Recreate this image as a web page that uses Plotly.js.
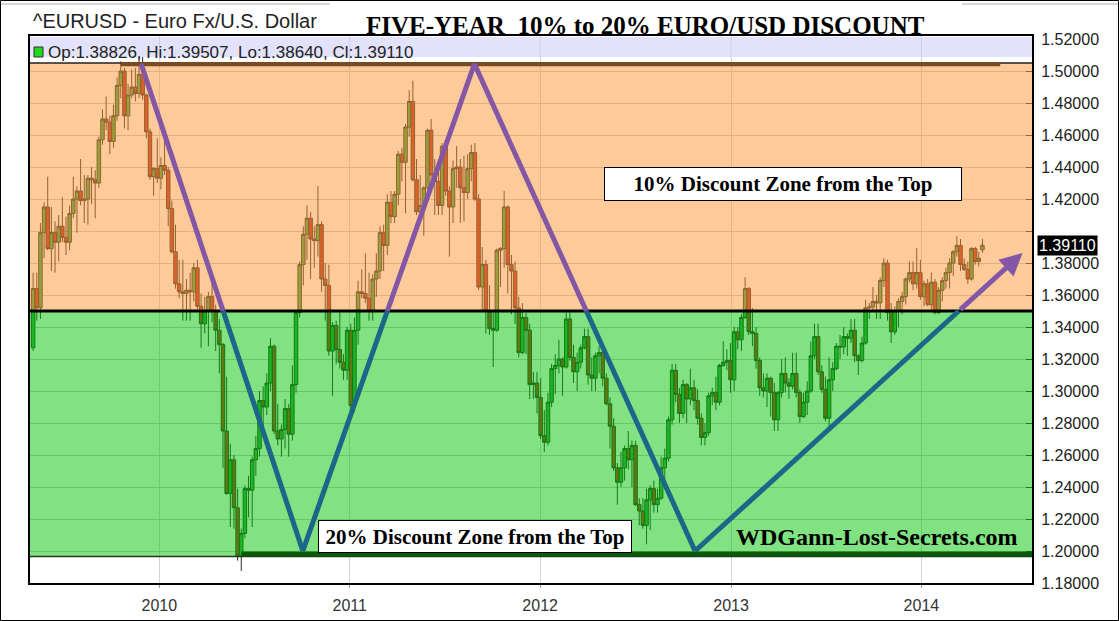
<!DOCTYPE html>
<html>
<head>
<meta charset="utf-8">
<script src="https://cdn.plot.ly/plotly-3.0.1.min.js"></script>
<style>
  html, body { margin: 0; padding: 0; background: #fff; }
  #chart { width: 1119px; height: 621px; }
</style>
</head>
<body>
<div id="chart"></div>
<script>
// ---- Weekly EUR/USD candles (week starting 2009-05-04) ----
const firstWeekUTC = Date.UTC(2009, 4, 4);

const open = [
1.3270,1.3640,1.3520,1.3990,1.4150,1.3890,1.3990,1.3930,1.4030,1.3960,
1.3930,1.4110,1.4200,1.4250,1.4190,1.4200,1.4330,1.4320,1.4300,1.4570,
1.4700,1.4680,1.4560,1.4720,1.4910,1.5000,1.4720,1.4850,1.4900,1.4860,
1.4980,1.4850,1.4620,1.4340,1.4390,1.4330,1.4410,1.4380,1.4140,1.3870,
1.3670,1.3620,1.3610,1.3630,1.3620,1.3770,1.3530,1.3420,1.3500,1.3590,
1.3500,1.3380,1.3290,1.2750,1.2360,1.2570,1.2270,1.1970,1.2110,1.2390,
1.2380,1.2570,1.2640,1.2940,1.2900,1.3050,1.3280,1.2750,1.2700,1.2760,
1.2890,1.2730,1.3040,1.3490,1.3790,1.3980,1.4080,1.3950,1.3940,1.4040,
1.3700,1.3660,1.3250,1.3410,1.3260,1.3180,1.3130,1.3380,1.2910,1.3380,
1.3620,1.3610,1.3580,1.3500,1.3700,1.3750,1.3990,1.3910,1.4180,1.4090,
1.4230,1.4480,1.4430,1.4650,1.4810,1.4320,1.4120,1.4160,1.4270,1.4630,
1.4350,1.4310,1.4160,1.4530,1.4250,1.4150,1.4390,1.4400,1.4270,1.4240,
1.4390,1.4490,1.4200,1.3650,1.3790,1.3500,1.3390,1.3380,1.3880,1.3890,
1.4150,1.3790,1.3750,1.3520,1.3240,1.3460,1.3380,1.3040,1.3050,1.2960,
1.2720,1.2680,1.2930,1.3140,1.3160,1.3200,1.3150,1.3450,1.3210,1.3120,
1.3180,1.3270,1.3340,1.3100,1.3080,1.3220,1.3240,1.3080,1.2920,1.2780,
1.2520,1.2430,1.2520,1.2640,1.2570,1.2660,1.2290,1.2250,1.2160,1.2320,
1.2390,1.2290,1.2330,1.2520,1.2580,1.2820,1.3130,1.2980,1.2860,1.3040,
1.2950,1.3020,1.2940,1.2830,1.2710,1.2740,1.2970,1.2990,1.2930,1.3160,
1.3180,1.3190,1.3070,1.3370,1.3320,1.3460,1.3640,1.3370,1.3360,1.3190,
1.3020,1.3000,1.3080,1.2990,1.2820,1.2990,1.3110,1.3050,1.3030,1.3110,
1.2990,1.2840,1.2930,1.3000,1.3220,1.3340,1.3120,1.3010,1.2830,1.3070,
1.3140,1.3280,1.3275,1.3340,1.3330,1.3380,1.3220,1.3190,1.3300,1.3520,
1.3525,1.3560,1.3550,1.3690,1.3800,1.3490,1.3370,1.3500,1.3560,1.3590,
1.3700,1.3740,1.3670,1.3740,1.3590,1.3670,1.3540,1.3680,1.3490,1.3630,
1.3690,1.3740,1.3800,1.3870,1.3910,1.3790,1.3760,1.3700,1.3890,1.3810,
1.38826];

const high = [
1.3740,1.3740,1.4050,1.4180,1.4340,1.4150,1.4060,1.4100,1.4210,1.4090,
1.4160,1.4340,1.4280,1.4450,1.4350,1.4350,1.4400,1.4380,1.4590,1.4760,
1.4840,1.4720,1.4790,1.4960,1.5060,1.5020,1.4920,1.5010,1.5020,1.5144,
1.5140,1.4860,1.4640,1.4400,1.4580,1.4460,1.4580,1.4400,1.4190,1.4040,
1.3820,1.3820,1.3700,1.3740,1.3800,1.3820,1.3610,1.3590,1.3620,1.3690,
1.3540,1.3450,1.3300,1.3090,1.2670,1.2600,1.2390,1.2140,1.2410,1.2470,
1.2590,1.2720,1.3000,1.3030,1.3110,1.3330,1.3290,1.2920,1.2790,1.2950,
1.2920,1.3160,1.3500,1.3810,1.4030,1.4160,1.4120,1.4030,1.4280,1.4060,
1.3800,1.3790,1.3430,1.3440,1.3500,1.3230,1.3400,1.3420,1.3460,1.3690,
1.3760,1.3860,1.3740,1.3730,1.3860,1.4030,1.4040,1.4230,1.4250,1.4250,
1.4500,1.4520,1.4670,1.4880,1.4940,1.4450,1.4350,1.4280,1.4640,1.4700,
1.4450,1.4450,1.4550,1.4550,1.4280,1.4440,1.4530,1.4450,1.4470,1.4480,
1.4540,1.4550,1.4230,1.3900,1.3820,1.3660,1.3500,1.3890,1.3900,1.4250,
1.4160,1.3850,1.3810,1.3590,1.3550,1.3490,1.3420,1.3120,1.3120,1.3080,
1.2880,1.2990,1.3170,1.3230,1.3320,1.3210,1.3490,1.3490,1.3290,1.3240,
1.3290,1.3390,1.3390,1.3210,1.3240,1.3280,1.3250,1.3110,1.2960,1.2830,
1.2550,1.2620,1.2660,1.2750,1.2690,1.2690,1.2330,1.2330,1.2390,1.2410,
1.2440,1.2390,1.2590,1.2640,1.2840,1.3170,1.3170,1.3020,1.3070,1.3050,
1.3140,1.3070,1.3010,1.2860,1.2800,1.2990,1.3020,1.3090,1.3170,1.3310,
1.3260,1.3300,1.3400,1.3400,1.3480,1.3710,1.3650,1.3520,1.3400,1.3210,
1.3110,1.3110,1.3090,1.3050,1.3000,1.3200,1.3210,1.3080,1.3240,1.3240,
1.3010,1.2990,1.3060,1.3310,1.3420,1.3420,1.3160,1.3090,1.3210,1.3180,
1.3300,1.3350,1.3400,1.3360,1.3450,1.3450,1.3230,1.3340,1.3570,1.3550,
1.3650,1.3600,1.3710,1.3830,1.3820,1.3550,1.3530,1.3580,1.3620,1.3710,
1.3810,1.3810,1.3893,1.3820,1.3690,1.3700,1.3740,1.3700,1.3650,1.3710,
1.3770,1.3830,1.3880,1.3967,1.3950,1.3830,1.3810,1.3900,1.3900,1.3870,
1.39507];

const low = [
1.3250,1.3440,1.3450,1.3830,1.3880,1.3750,1.3740,1.3810,1.3930,1.3850,
1.3880,1.4080,1.3990,1.4160,1.4050,1.4040,1.4170,1.4080,1.4270,1.4540,
1.4630,1.4480,1.4520,1.4690,1.4830,1.4640,1.4630,1.4830,1.4810,1.4830,
1.4820,1.4580,1.4320,1.4220,1.4300,1.4260,1.4350,1.4030,1.3860,1.3640,
1.3580,1.3440,1.3440,1.3440,1.3560,1.3510,1.3270,1.3360,1.3280,1.3430,
1.3250,1.3110,1.2520,1.2350,1.2150,1.2140,1.1940,1.1876,1.2080,1.2210,
1.2150,1.2470,1.2590,1.2720,1.2850,1.3000,1.2730,1.2660,1.2590,1.2640,
1.2590,1.2690,1.2990,1.3460,1.3660,1.3820,1.3700,1.3770,1.3840,1.3620,
1.3440,1.3220,1.2970,1.3170,1.3140,1.3070,1.3070,1.2870,1.2870,1.3290,
1.3580,1.3550,1.3440,1.3440,1.3590,1.3700,1.3750,1.3850,1.4050,1.4050,
1.4160,1.4310,1.4110,1.4590,1.4310,1.4100,1.4050,1.3970,1.4240,1.4300,
1.4100,1.4100,1.4100,1.4220,1.3840,1.4050,1.4270,1.4050,1.4060,1.4200,
1.4310,1.4190,1.3630,1.3500,1.3360,1.3350,1.3150,1.3370,1.3650,1.3770,
1.3610,1.3480,1.3420,1.3210,1.3230,1.3230,1.2950,1.2950,1.2860,1.2700,
1.2620,1.2660,1.2900,1.2980,1.3110,1.2970,1.3140,1.3190,1.3050,1.3000,
1.3140,1.3260,1.3040,1.3000,1.3000,1.3110,1.3030,1.2910,1.2640,1.2500,
1.2290,1.2400,1.2440,1.2510,1.2400,1.2280,1.2160,1.2140,1.2042,1.2130,
1.2240,1.2240,1.2320,1.2430,1.2560,1.2790,1.2930,1.2800,1.2830,1.2800,
1.2910,1.2880,1.2790,1.2660,1.2660,1.2720,1.2910,1.2880,1.2910,1.3150,
1.3130,1.2990,1.3000,1.3260,1.3250,1.3450,1.3350,1.3280,1.3140,1.2970,
1.2960,1.2900,1.2840,1.2750,1.2750,1.2960,1.2990,1.2950,1.3010,1.2960,
1.2800,1.2830,1.2850,1.2990,1.3200,1.3100,1.2990,1.2810,1.2760,1.3000,
1.3130,1.3200,1.3230,1.3220,1.3300,1.3180,1.3100,1.3180,1.3290,1.3450,
1.3500,1.3450,1.3450,1.3650,1.3440,1.3300,1.3350,1.3400,1.3480,1.3540,
1.3680,1.3630,1.3640,1.3570,1.3530,1.3530,1.3510,1.3480,1.3480,1.3560,
1.3640,1.3640,1.3720,1.3840,1.3750,1.3750,1.3670,1.3690,1.3790,1.3780,
1.38640];

const close = [
1.3640,1.3520,1.3990,1.4150,1.3890,1.3990,1.3930,1.4030,1.3960,1.3930,
1.4110,1.4200,1.4250,1.4190,1.4200,1.4330,1.4320,1.4300,1.4570,1.4700,
1.4680,1.4560,1.4720,1.4910,1.5000,1.4720,1.4850,1.4900,1.4860,1.4980,
1.4850,1.4620,1.4340,1.4390,1.4330,1.4410,1.4380,1.4140,1.3870,1.3670,
1.3620,1.3610,1.3630,1.3620,1.3770,1.3530,1.3420,1.3500,1.3590,1.3500,
1.3380,1.3290,1.2750,1.2360,1.2570,1.2270,1.1970,1.2110,1.2390,1.2380,
1.2570,1.2640,1.2940,1.2900,1.3050,1.3280,1.2750,1.2700,1.2760,1.2890,
1.2730,1.3040,1.3490,1.3790,1.3980,1.4080,1.3950,1.3940,1.4040,1.3700,
1.3660,1.3250,1.3410,1.3260,1.3180,1.3130,1.3380,1.2910,1.3380,1.3620,
1.3610,1.3580,1.3500,1.3700,1.3750,1.3990,1.3910,1.4180,1.4090,1.4230,
1.4480,1.4430,1.4650,1.4810,1.4320,1.4120,1.4160,1.4270,1.4630,1.4350,
1.4310,1.4160,1.4530,1.4250,1.4150,1.4390,1.4400,1.4270,1.4240,1.4390,
1.4490,1.4200,1.3650,1.3790,1.3500,1.3390,1.3380,1.3880,1.3890,1.4150,
1.3790,1.3750,1.3520,1.3240,1.3460,1.3380,1.3040,1.3050,1.2960,1.2720,
1.2680,1.2930,1.3140,1.3160,1.3200,1.3150,1.3450,1.3210,1.3120,1.3180,
1.3270,1.3340,1.3100,1.3080,1.3220,1.3240,1.3080,1.2920,1.2780,1.2520,
1.2430,1.2520,1.2640,1.2570,1.2660,1.2290,1.2250,1.2160,1.2320,1.2390,
1.2290,1.2330,1.2520,1.2580,1.2820,1.3130,1.2980,1.2860,1.3040,1.2950,
1.3020,1.2940,1.2830,1.2710,1.2740,1.2970,1.2990,1.2930,1.3160,1.3180,
1.3190,1.3070,1.3370,1.3320,1.3460,1.3640,1.3370,1.3360,1.3190,1.3020,
1.3000,1.3080,1.2990,1.2820,1.2990,1.3110,1.3050,1.3030,1.3110,1.2990,
1.2840,1.2930,1.3000,1.3220,1.3340,1.3120,1.3010,1.2830,1.3070,1.3140,
1.3280,1.3275,1.3340,1.3330,1.3380,1.3220,1.3190,1.3300,1.3520,1.3525,
1.3560,1.3550,1.3690,1.3800,1.3490,1.3370,1.3500,1.3560,1.3590,1.3700,
1.3740,1.3670,1.3740,1.3590,1.3670,1.3540,1.3680,1.3490,1.3630,1.3690,
1.3740,1.3800,1.3870,1.3910,1.3790,1.3760,1.3700,1.3890,1.3810,1.3830,
1.39110];

// Axis ticks
const yearTicks  = ['2010-01-01','2011-01-01','2012-01-01','2013-01-01','2014-01-01'];
const yearLabels = ['2010','2011','2012','2013','2014'];
const yTickVals  = [1.18,1.20,1.22,1.24,1.26,1.28,1.30,1.32,1.34,1.36,1.38,1.40,1.42,1.44,1.46,1.48,1.50,1.52];
const yTickText  = ['1.18000','1.20000','1.22000','1.24000','1.26000','1.28000','1.30000','1.32000','1.34000',
                    '1.36000','1.38000','','1.42000','1.44000','1.46000','1.48000','1.50000','1.52000'];

// Discount zones and the hand-drawn zig-zag
const zoneTop = 1.505, zoneMid = 1.35, zoneBottom = 1.1965;
const zigzagDates  = ['2009-11-27','2010-10-03','2011-08-28','2012-10-24','2014-07-14'];
const zigzagPrices = [1.5045, 1.2000, 1.5045, 1.2000, 1.3863];

const PURPLE = '#8457a6', BLUE = '#1b6689';

const weeks = open.map((_, i) => new Date(firstWeekUTC + i * 7 * 864e5).toISOString().slice(0, 10));
const last = close.length - 1;

function ms(s) { return Date.parse(s + 'T00:00:00Z'); }
function fmt(t) { return new Date(t).toISOString().slice(0, 19).replace('T', ' '); }

const PL = 30, PT = 36, PW = 1002, PH = 547; // plot area in px
const px = x => (x - PL) / PW;
const py = y => (PT + PH - y) / PH;

const shapes = [];
// overlays (semi-transparent, above candles)
shapes.push({type:'rect', layer:'above', xref:'paper', yref:'y', x0:0, x1:1, y0:zoneMid, y1:zoneTop,
  fillcolor:'rgba(251,151,51,0.5)', line:{width:0}});
shapes.push({type:'rect', layer:'above', xref:'paper', yref:'y', x0:0, x1:1, y0:zoneBottom, y1:zoneMid,
  fillcolor:'rgba(1,197,1,0.5)', line:{width:0}});
// legend band
shapes.push({type:'rect', layer:'above', xref:'paper', yref:'paper', x0:0, x1:1, y0:py(57), y1:py(37),
  fillcolor:'rgb(226,226,250)', line:{width:0}});
yearTicks.forEach(d => shapes.push({type:'line', layer:'above', xref:'x', yref:'paper', x0:d, x1:d, y0:py(57), y1:py(37),
  line:{color:'rgb(206,206,232)', width:1}}));
// zone borders
shapes.push({type:'line', layer:'above', xref:'paper', yref:'y', x0:0, x1:1, y0:zoneTop, y1:zoneTop,
  line:{color:'#222', width:1.5}});
const firstTop = weeks[high.findIndex(h => h >= 1.50)];
shapes.push({type:'line', layer:'above', xref:'x', yref:'y', x0:firstTop, x1:'2014-06-01', y0:1.5042, y1:1.5042,
  line:{color:'#7b4a1e', width:4}});
shapes.push({type:'line', layer:'above', xref:'paper', yref:'y', x0:0, x1:1, y0:zoneBottom, y1:zoneBottom,
  line:{color:'#1a3a1a', width:1.5}});
const lowIdx = low.indexOf(Math.min(...low));
shapes.push({type:'line', layer:'above', xref:'x', yref:'y', x0:weeks[lowIdx], x1:'2014-08-01', y0:1.1982, y1:1.1982,
  line:{color:'#0a5a0a', width:5}});
shapes.push({type:'line', layer:'above', xref:'paper', yref:'y', x0:0, x1:1, y0:zoneMid, y1:zoneMid,
  line:{color:'#000', width:3}});

// zig-zag
const annotations = [];
for (let k = 0; k < zigzagDates.length - 1; k++) {
  const ta = ms(zigzagDates[k]), tb = ms(zigzagDates[k + 1]);
  const pa = zigzagPrices[k], pb = zigzagPrices[k + 1];
  const f = (zoneMid - pa) / (pb - pa);
  const tm = ta + f * (tb - ta);
  const isLast = k === zigzagDates.length - 2;
  const parts = [[ta, pa, tm, zoneMid], [tm, zoneMid, tb, pb]];
  parts.forEach(([t0, p0, t1, p1]) => {
    const upper = (p0 + p1) / 2 > zoneMid;
    const col = upper ? PURPLE : BLUE;
    if (isLast && upper) {
      annotations.push({xref:'x', yref:'y', axref:'x', ayref:'y', x:fmt(t1), y:p1, ax:fmt(t0), ay:p0,
        text:'', showarrow:true, arrowhead:2, arrowsize:0.9, arrowwidth:5, arrowcolor:col, standoff:0, startstandoff:0});
    } else {
      shapes.push({type:'line', layer:'above', xref:'x', yref:'y', x0:fmt(t0), y0:p0, x1:fmt(t1), y1:p1,
        line:{color:col, width:5}});
    }
  });
}

// legend square & frame decorations
shapes.push({type:'rect', layer:'above', xref:'paper', yref:'paper', x0:px(34), x1:px(43), y0:py(57), y1:py(47),
  fillcolor:'#1fd81f', line:{color:'#333', width:1}});
shapes.push({type:'line', xref:'paper', yref:'paper', x0:px(0), x1:px(330), y0:py(4), y1:py(4), line:{color:'#d6d6d6', width:2}});
shapes.push({type:'line', xref:'paper', yref:'paper', x0:px(962), x1:px(1119), y0:py(4), y1:py(4), line:{color:'#d6d6d6', width:2}});
shapes.push({type:'rect', xref:'paper', yref:'paper', x0:px(0.5), x1:px(1118.5), y0:py(620.5), y1:py(0.5),
  fillcolor:'rgba(0,0,0,0)', line:{color:'#000', width:1}});

const serif = 'Liberation Serif, Times New Roman, serif';
annotations.push(
  {xref:'paper', yref:'paper', x:px(31), y:py(21), xanchor:'left', yanchor:'middle', showarrow:false,
   text:'^EURUSD - Euro Fx/U.S. Dollar', font:{size:20, color:'#222'}},
  {xref:'paper', yref:'paper', x:px(645), y:1, xanchor:'center', yanchor:'bottom', yshift:-5, showarrow:false,
   text:'<b>FIVE-YEAR  10% to 20% EURO/USD DISCOUNT</b>', font:{family:serif, size:25, color:'#000'}},
  {xref:'paper', yref:'paper', x:px(46), y:py(52), xanchor:'left', yanchor:'middle', showarrow:false,
   text:'Op:' + open[last].toFixed(5) + ', Hi:' + high[last].toFixed(5) + ', Lo:' + low[last].toFixed(5) + ', Cl:' + close[last].toFixed(5),
   font:{size:17, color:'#222'}},
  {xref:'paper', yref:'paper', x:px(783), y:py(184), xanchor:'center', yanchor:'middle', showarrow:false,
   text:'<b>10% Discount Zone from the Top</b>', font:{family:serif, size:21, color:'#000'},
   bgcolor:'#fff', bordercolor:'#000', borderwidth:1, borderpad:0, width:356, height:32},
  {xref:'paper', yref:'paper', x:px(475), y:py(536.5), xanchor:'center', yanchor:'middle', showarrow:false,
   text:'<b>20% Discount Zone from the Top</b>', font:{family:serif, size:21, color:'#000'},
   bgcolor:'#fff', bordercolor:'#000', borderwidth:1, borderpad:0, width:312, height:31},
  {xref:'paper', yref:'paper', x:px(877), y:py(537), xanchor:'center', yanchor:'middle', showarrow:false,
   text:'<b>WDGann-Lost-Secrets.com</b>', font:{family:serif, size:24, color:'#000'}},
  {xref:'paper', yref:'y', x:1, y:close[last], xanchor:'left', yanchor:'middle', xshift:5, showarrow:false,
   text:close[last].toFixed(5), font:{size:16, color:'#fff'}, bgcolor:'#000', borderpad:1}
);

const trace = {
  type:'candlestick', x:weeks, open:open, high:high, low:low, close:close,
  increasing:{line:{color:'#2b2b2b', width:1}, fillcolor:'rgb(49,169,69)'},
  decreasing:{line:{color:'#2b2b2b', width:1}, fillcolor:'rgb(197,41,33)'},
  whiskerwidth:0, hoverinfo:'skip', showlegend:false
};

const layout = {
  width:1119, height:621,
  margin:{l:PL, r:1119 - PL - PW, t:PT, b:621 - PT - PH, pad:0},
  paper_bgcolor:'#fff', plot_bgcolor:'#fff',
  font:{family:'Liberation Sans, Arial, sans-serif', color:'#222'},
  showlegend:false,
  boxgap:0.05, boxgroupgap:0,
  xaxis:{type:'date', range:['2009-04-28','2014-08-01'], tickvals:yearTicks, ticktext:yearLabels,
    showgrid:true, gridcolor:'#d2d2d2', gridwidth:1, showline:true, linecolor:'#000', linewidth:2, mirror:true,
    ticks:'outside', ticklen:3, tickcolor:'#999', tickfont:{size:16, color:'#333'}, ticklabelstandoff:4,
    rangeslider:{visible:false}, zeroline:false, fixedrange:true},
  yaxis:{side:'right', range:[1.18, 1.5219], tickvals:yTickVals, ticktext:yTickText,
    ticks:'inside', ticklen:6, tickcolor:'#333', showgrid:true, gridcolor:'#c8c8c8', gridwidth:1,
    showline:true, linecolor:'#000', linewidth:2, mirror:true, zeroline:false,
    tickfont:{size:16, color:'#222'}, ticklabelstandoff:4, fixedrange:true},
  shapes:shapes,
  annotations:annotations
};

Plotly.newPlot('chart', [trace], layout, {displayModeBar:false, staticPlot:true});
</script>
</body>
</html>
